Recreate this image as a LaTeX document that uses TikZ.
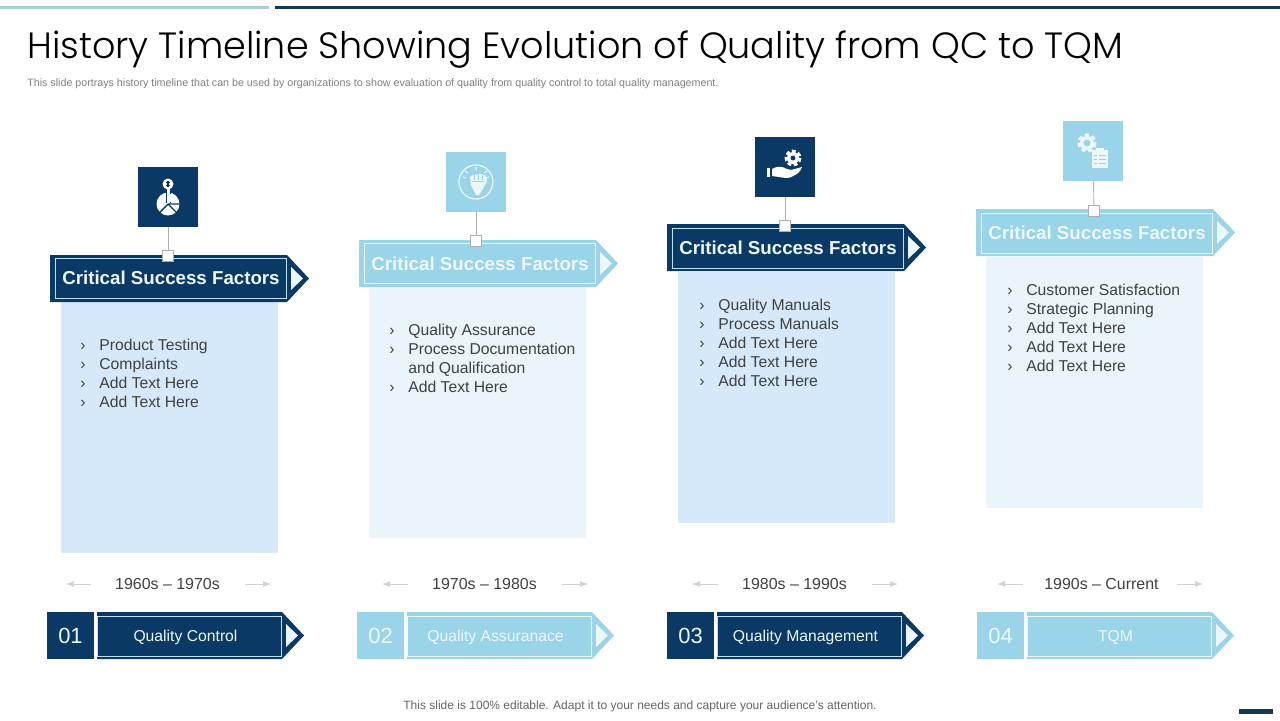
\documentclass[tikz,border=0pt]{standalone}
\usepackage{fontspec}
\setmainfont{Liberation Sans}
\newfontfamily\titlefont{Poppins Light}
\usetikzlibrary{arrows.meta,positioning}
\definecolor{NavyDark}{RGB}{11,57,101}
\definecolor{SkyMid}{RGB}{154,212,233}
\definecolor{PaleLine}{RGB}{190,226,243}
\definecolor{PaleText}{RGB}{236,247,252}
\definecolor{BodyBlue}{RGB}{214,233,251}
\definecolor{BodySky}{RGB}{233,245,251}
\definecolor{TextGrey}{RGB}{64,64,64}
\definecolor{NoteGrey}{RGB}{127,127,127}
\definecolor{LinkGrey}{RGB}{176,176,176}
\definecolor{ArrowGrey}{RGB}{210,210,210}
\definecolor{RuleSky}{RGB}{168,204,218}
\definecolor{RuleNavy}{RGB}{22,56,86}
\newcommand{\listmark}{\makebox[0.38cm][l]{›}}
\tikzset{
  iconbox/.style={fill=#1, minimum size=1.2cm, inner sep=0pt},
  knotbox/.style={draw=LinkGrey, line width=0.4pt, fill=white, minimum size=0.22cm, inner sep=0pt},
  iconlink/.style={draw=LinkGrey, line width=0.5pt},
  headbox/.style={draw=#1, line width=0.4pt, text=PaleText, minimum width=4.62cm, minimum height=0.8cm,
    font=\fontsize{10.65}{12}\selectfont\bfseries, inner sep=0pt},
  ribbonbox/.style={draw=#1, line width=0.4pt, text=PaleText, minimum width=3.68cm, minimum height=0.8cm,
    text height=2.7mm, text depth=0.6mm,
    font=\fontsize{8.95}{11}\selectfont, inner sep=0pt, execute at begin node={\hspace*{-0.14cm}}},
  numbox/.style={fill=#1, text=PaleText, minimum size=0.94cm, font=\fontsize{12.5}{14}\selectfont, inner sep=0pt},
  bodybox/.style={fill=#1, minimum width=4.34cm, minimum height=5.02cm, inner sep=0pt},
  listtext/.style={anchor=north west, align=left, text=TextGrey, inner sep=0pt,
    font=\fontsize{8.95}{10.77}\selectfont},
  datetext/.style={text=TextGrey, font=\fontsize{9.07}{11}\selectfont, inner sep=0pt},
  datearr/.style={-{Latex[length=1.6mm, width=1.2mm]}, line width=0.5pt, ArrowGrey},
  pics/flagshape/.style n args={3}{code={
    \fill[#2] (0,0) -- (#1,0) -- ({#1+22},23.5) -- (#1,47) -- (0,47) -- cycle;
    \fill[#3] ({#1+4},12) -- ({#1+16},23.5) -- ({#1+4},35) -- cycle;
  }},
}
\begin{document}
\begin{tikzpicture}[x=0.02cm, y=-0.02cm]
  \useasboundingbox (0,0) rectangle (1280,720);
  % ---- top rules and headings ----
  \fill[RuleSky] (0,6) rectangle (269,9);
  \fill[RuleNavy] (275,6) rectangle (1280,9);
  \node[anchor=base west, inner sep=0pt, font=\titlefont\fontsize{20.8}{26}\selectfont, text=black] (title) at (27,58)
    {History Timeline Showing Evolution of Quality from QC to TQM};
  \node[anchor=west, inner sep=0pt, font=\fontsize{6.08}{7}\selectfont, text=NoteGrey] (subtitle) at (27,84)
    {This slide portrays history timeline that can be used by organizations to show evaluation of quality from quality control to total quality management.};

  % ---- column bodies ----
  \node[bodybox=BodyBlue] (body1) at (169.5,427.5) {};
  \node[bodybox=BodySky] (body2) at (477.5,412.5) {};
  \node[bodybox=BodyBlue] (body3) at (786.5,397.5) {};
  \node[bodybox=BodySky] (body4) at (1094.5,382.5) {};

  % ---- header flags ----
  \pic at (50,255) {flagshape={237}{NavyDark}{PaleText}};
  \pic at (359,240) {flagshape={237}{SkyMid}{PaleText}};
  \pic at (667,224) {flagshape={237}{NavyDark}{PaleText}};
  \pic at (976,209) {flagshape={237}{SkyMid}{PaleText}};
  \node[headbox=PaleLine] (head1) at (171,278) {Critical Success Factors};
  \node[headbox=PaleText] (head2) at (480,263.5) {Critical Success Factors};
  \node[headbox=PaleLine] (head3) at (788,248) {Critical Success Factors};
  \node[headbox=PaleText] (head4) at (1097,233) {Critical Success Factors};

  % ---- icon squares ----
  \node[iconbox=NavyDark] (icon1) at (168,197) {};
  \node[iconbox=SkyMid] (icon2) at (476,182) {};
  \node[iconbox=NavyDark] (icon3) at (785,167) {};
  \node[iconbox=SkyMid] (icon4) at (1093,151) {};
  \node[knotbox] (knot1) at (168,256) {};
  \node[knotbox] (knot2) at (476,241) {};
  \node[knotbox] (knot3) at (785,226) {};
  \node[knotbox] (knot4) at (1094,211) {};
  \draw[iconlink] (icon1) -- (knot1);
  \draw[iconlink] (icon2) -- (knot2);
  \draw[iconlink] (icon3) -- (knot3);
  \draw[iconlink] (icon4) -- (knot4);

  % pie chart with key
  \fill[white] (168,204) circle (11.5);
  \draw[NavyDark, line width=0.8pt] (168,204) -- (159,213) (168,204) -- (177,213) (168,204) -- (180,204);
  \fill[white] (168,184) circle (5.5);
  \draw[NavyDark, line width=0.6pt] (168,181) -- (168,187) (166,182.5) -- (170,182.5) (166,185.5) -- (170,185.5);
  \draw[NavyDark, line width=3pt] (168.5,190) -- (168.5,203);
  \draw[white, line width=1.8pt] (168.5,189) -- (168.5,203) (168.5,196) -- (173,196) (168.5,200) -- (172,200);
  % fist in a ring
  \draw[PaleText, line width=0.7pt] (476,182) circle (17);
  \fill[PaleText] (470,177) -- (473,175) -- (481,174) -- (486,176) -- (487,181) -- (484,187) -- (479,195) -- (476,195) -- (473,189) -- (471,185) -- cycle;
  \draw[SkyMid, line width=0.5pt] (474,175) -- (474,180) (478,175) -- (478,180) (482,175) -- (482,180) (472,181) -- (484,181);
  \draw[PaleText, line width=0.6pt] (463,177) -- (466,178) (465,171) -- (468,173) (476,167) -- (476,170) (487,171) -- (484,173) (489,177) -- (486,178);
  % hand holding a gear
  \fill[white] (793,158) circle (6);
  \draw[white, line width=1.6pt, dash pattern=on 2.2pt off 1.4pt] (793,158) circle (7);
  \fill[NavyDark] (793,158) circle (2.4);
  \fill[white] (767,168) rectangle (770,177);
  \fill[white] (772,169) .. controls (777,166) and (782,166) .. (787,169) -- (791,170) -- (802,167) .. controls (801,172) and (793,178) .. (786,178) -- (772,176) -- cycle;
  % gear and clipboard
  \draw[PaleText, line width=2pt] (1087,143) circle (5.5);
  \draw[PaleText, line width=1.8pt, dash pattern=on 2.4pt off 1.6pt] (1087,143) circle (8);
  \fill[PaleText] (1092,150) rectangle (1108,168);
  \fill[PaleText] (1096,148) rectangle (1104,151);
  \draw[SkyMid, line width=0.5pt] (1099,155) -- (1106,155) (1099,159) -- (1106,159) (1099,163) -- (1106,163)
    (1094,155) -- (1097,155) (1094,159) -- (1097,159) (1094,163) -- (1097,163);

  % ---- lists ----
  \node[listtext] (list1) at (80,339) {\listmark Product Testing\\\listmark Complaints\\\listmark Add Text Here\\\listmark Add Text Here};
  \node[listtext] (list2) at (389,324) {\listmark Quality Assurance\\\listmark Process Documentation\\\makebox[0.38cm]{}and Qualification\\\listmark Add Text Here};
  \node[listtext] (list3) at (699,299) {\listmark Quality Manuals\\\listmark Process Manuals\\\listmark Add Text Here\\\listmark Add Text Here\\\listmark Add Text Here};
  \node[listtext] (list4) at (1007,284) {\listmark Customer Satisfaction\\\listmark Strategic Planning\\\listmark Add Text Here\\\listmark Add Text Here\\\listmark Add Text Here};

  % ---- periods ----
  \node[datetext] (date1) at (167.5,584) {1960s – 1970s};
  \node[datetext] (date2) at (484.5,584) {1970s – 1980s};
  \node[datetext] (date3) at (794.5,584) {1980s – 1990s};
  \node[datetext] (date4) at (1101.5,584) {1990s – Current};
  \coordinate (from1l) at (91,584); \coordinate (to1l) at (66,584);
  \coordinate (from1r) at (245,584); \coordinate (to1r) at (271,584);
  \coordinate (from2l) at (408,584); \coordinate (to2l) at (382,584);
  \coordinate (from2r) at (562,584); \coordinate (to2r) at (588,584);
  \coordinate (from3l) at (718,584); \coordinate (to3l) at (692,584);
  \coordinate (from3r) at (872,584); \coordinate (to3r) at (898,584);
  \coordinate (from4l) at (1023,584); \coordinate (to4l) at (997,584);
  \coordinate (from4r) at (1177,584); \coordinate (to4r) at (1203,584);
  \draw[datearr] (from1l) -- (to1l);
  \draw[datearr] (from1r) -- (to1r);
  \draw[datearr] (from2l) -- (to2l);
  \draw[datearr] (from2r) -- (to2r);
  \draw[datearr] (from3l) -- (to3l);
  \draw[datearr] (from3r) -- (to3r);
  \draw[datearr] (from4l) -- (to4l);
  \draw[datearr] (from4r) -- (to4r);

  % ---- bottom ribbons ----
  \node[numbox=NavyDark] (num1) at (70.5,635.5) {01};
  \node[numbox=SkyMid] (num2) at (380.5,635.5) {02};
  \node[numbox=NavyDark] (num3) at (690.5,635.5) {03};
  \node[numbox=SkyMid] (num4) at (1000.5,635.5) {04};
  \pic at (97,612) {flagshape={185}{NavyDark}{PaleText}};
  \pic at (407,612) {flagshape={185}{SkyMid}{PaleText}};
  \pic at (717,612) {flagshape={185}{NavyDark}{PaleText}};
  \pic at (1027,612) {flagshape={185}{SkyMid}{PaleText}};
  \node[ribbonbox=PaleLine] (tag1) at (189,636) {Quality Control};
  \node[ribbonbox=PaleText] (tag2) at (499,636) {Quality Assuranace};
  \node[ribbonbox=PaleLine] (tag3) at (809,636) {Quality Management};
  \node[ribbonbox=PaleText] (tag4) at (1119,636) {TQM};

  % ---- footer ----
  \node[inner sep=0pt, font=\fontsize{6.83}{8}\selectfont, text=NoteGrey!80!black] (footer) at (640,706.5)
    {This slide is 100\% editable. Adapt it to your needs and capture your audience's attention.};
  \fill[RuleNavy] (1239,709) rectangle (1273,714);
\end{tikzpicture}
\end{document}
